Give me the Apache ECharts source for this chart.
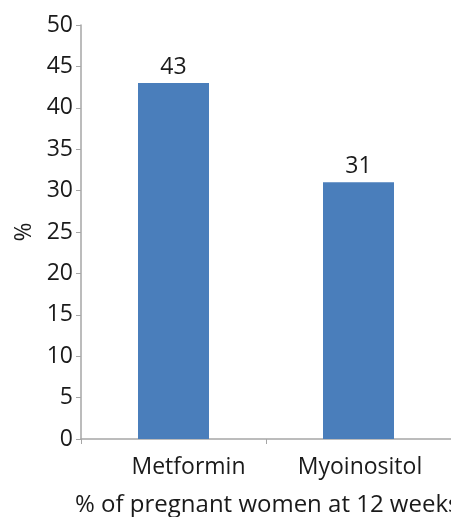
<!DOCTYPE html>
<html>
<head>
<meta charset="utf-8">
<script src="https://cdn.jsdelivr.net/npm/echarts@6/dist/echarts.min.js"></script>
<style>
  html, body { margin: 0; padding: 0; background: #fff; }
  #chart { width: 451px; height: 517px; }
</style>
</head>
<body>
<div id="chart"></div>
<script>
// Share of pregnant women at 12 weeks, by treatment
const categories = ['Metformin', 'Myoinositol'];
const values = [43, 31];
const yTicks = { min: 0, max: 50, interval: 5 };

const FONT = '"Open Sans", "DejaVu Sans", sans-serif';
const SIZE = 23;
const axisGray = '#a6a6a6';
const textColor = '#1a1a1a';

const chart = echarts.init(document.getElementById('chart'), null, { renderer: 'canvas' });
chart.setOption({
  animation: false,
  grid: { left: 81, right: 0, top: 25, bottom: 78, containLabel: false, outerBoundsMode: 'none' },
  xAxis: {
    type: 'category',
    data: categories,
    axisLine: { show: true, lineStyle: { color: axisGray, width: 1.5 } },
    axisTick: { show: true, alignWithLabel: false, length: 5, lineStyle: { color: axisGray } },
    axisLabel: {
      interval: 0, hideOverlap: false,
      color: textColor, fontFamily: FONT, fontSize: SIZE, margin: 17,
      formatter: (v, i) => i === 0 ? '{a|' + v + '}' : '{b|' + v + '}',
      rich: {
        a: { color: textColor, fontFamily: FONT, fontSize: SIZE, padding: [0, 0, 0, 30] },
        b: { color: textColor, fontFamily: FONT, fontSize: SIZE, padding: [0, 0, 0, 3] }
      }
    },
    splitLine: { show: false }
  },
  yAxis: {
    type: 'value',
    min: yTicks.min, max: yTicks.max, interval: yTicks.interval,
    name: '%',
    nameLocation: 'middle',
    nameGap: 43,
    nameRotate: 90,
    nameTextStyle: { color: textColor, fontFamily: FONT, fontSize: SIZE },
    axisLine: { show: true, lineStyle: { color: axisGray, width: 1.5 } },
    axisTick: { show: true, length: 5, lineStyle: { color: axisGray } },
    axisLabel: { color: textColor, fontFamily: FONT, fontSize: SIZE, margin: 8 },
    splitLine: { show: false }
  },
  graphic: [{
    type: 'text',
    x: 75, y: 505,
    style: {
      text: '% of pregnant women at 12 weeks',
      fill: textColor,
      font: '24px ' + FONT,
      verticalAlign: 'middle'
    }
  }],
  series: [{
    type: 'bar',
    data: values,
    barWidth: 71,
    itemStyle: { color: '#4a7ebb' },
    label: {
      show: true, position: 'top', distance: 4,
      color: textColor, fontFamily: FONT, fontSize: SIZE
    }
  }]
});
</script>
</body>
</html>
